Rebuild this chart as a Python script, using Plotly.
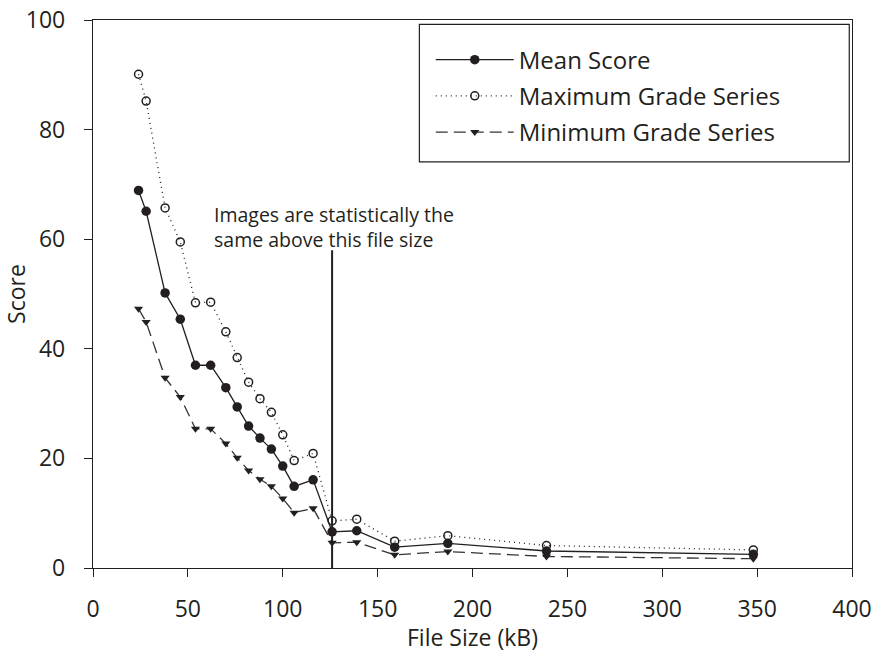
import plotly.graph_objects as go

file_size = [24, 28, 38, 46, 54, 62, 70, 76, 82, 88, 94, 100, 106, 116, 126, 139, 159, 187, 239, 348]
mean_score = [68.9, 65.1, 50.2, 45.4, 37.0, 37.0, 32.9, 29.4, 25.9, 23.7, 21.7, 18.6, 14.9, 16.1, 6.6, 6.8, 3.8, 4.5, 3.1, 2.5]
max_grade = [90.1, 85.2, 65.7, 59.5, 48.4, 48.5, 43.1, 38.4, 33.9, 30.9, 28.4, 24.3, 19.6, 20.9, 8.6, 8.9, 4.9, 5.9, 4.1, 3.3]
min_grade = [47.3, 44.9, 34.7, 31.2, 25.4, 25.4, 22.7, 20.1, 17.8, 16.2, 14.9, 12.7, 10.1, 10.9, 4.6, 4.7, 2.4, 3.0, 2.1, 1.7]

x_ticks = [0, 50, 100, 150, 200, 250, 300, 350, 400]
y_ticks = [0, 20, 40, 60, 80, 100]

threshold = 126
threshold_top = 58
note = "Images are statistically the<br>same above this file size"

INK = "#231f20"
FONT = "Open Sans, Noto Sans, sans-serif"

fig = go.Figure()
fig.add_trace(go.Scatter(
    x=file_size, y=mean_score, name="Mean Score", mode="lines+markers",
    line=dict(color=INK, width=1.3),
    marker=dict(symbol="circle", size=9.5, color=INK),
    legendgroup="a"))
fig.add_trace(go.Scatter(
    x=file_size, y=max_grade, name="Maximum Grade Series", mode="lines+markers",
    line=dict(color=INK, width=1.3, dash="1px,4px"),
    marker=dict(symbol="circle-open", size=8, color=INK, line=dict(width=1.5)),
    legendgroup="b"))
fig.add_trace(go.Scatter(
    x=file_size, y=min_grade, name="Minimum Grade Series", mode="lines+markers",
    line=dict(color="#333333", width=1.3, dash="12px,6px"),
    marker=dict(symbol="triangle-down", size=8, color=INK),
    legendgroup="c"))

fig.add_shape(type="line", xref="x", yref="y", x0=threshold, x1=threshold,
              y0=0, y1=threshold_top, line=dict(color=INK, width=2))
fig.add_annotation(x=127, y=57.2, xref="x", yref="y", text=note,
                   showarrow=False, xanchor="center", yanchor="bottom", align="left",
                   font=dict(size=19.5, color=INK, family=FONT))

# legend frame
fig.add_shape(type="rect", xref="paper", yref="paper",
              x0=0.430, x1=0.9964, y0=0.741, y1=0.992,
              line=dict(color=INK, width=1.2), fillcolor="rgba(0,0,0,0)", layer="above")

axis_common = dict(showline=True, linecolor=INK, linewidth=1.3, mirror=True,
                   ticks="outside", ticklen=8, tickcolor=INK, tickwidth=1.3,
                   showgrid=False, zeroline=False, automargin=False,
                   ticklabeloverflow="allow",
                   tickfont=dict(size=23, color=INK, family=FONT))

fig.update_layout(
    width=872, height=653,
    margin=dict(l=93, r=20, t=20, b=85),
    paper_bgcolor="white", plot_bgcolor="white",
    font=dict(family=FONT, color=INK),
    xaxis=dict(range=[0, 400], tickvals=x_ticks, ticklabelstandoff=12,
               title=dict(text="File Size (kB)", font=dict(size=23, color=INK, family=FONT), standoff=0),
               **axis_common),
    yaxis=dict(range=[0, 100], tickvals=y_ticks, ticklabelstandoff=14,
               title=dict(text="Score", font=dict(size=23, color=INK, family=FONT), standoff=0),
               **axis_common),
    legend=dict(x=0.445, y=0.968, xanchor="left", yanchor="top",
                bgcolor="rgba(0,0,0,0)", borderwidth=0,
                font=dict(size=24, color=INK, family=FONT),
                traceorder="grouped", tracegroupgap=2, itemwidth=78),
)

# remove the default 8px page margin so the figure fills the window exactly
fig.write_html("out.html",
               config={"displayModeBar": False},
               post_script="document.body.style.margin='0';document.body.style.overflow='hidden';")
